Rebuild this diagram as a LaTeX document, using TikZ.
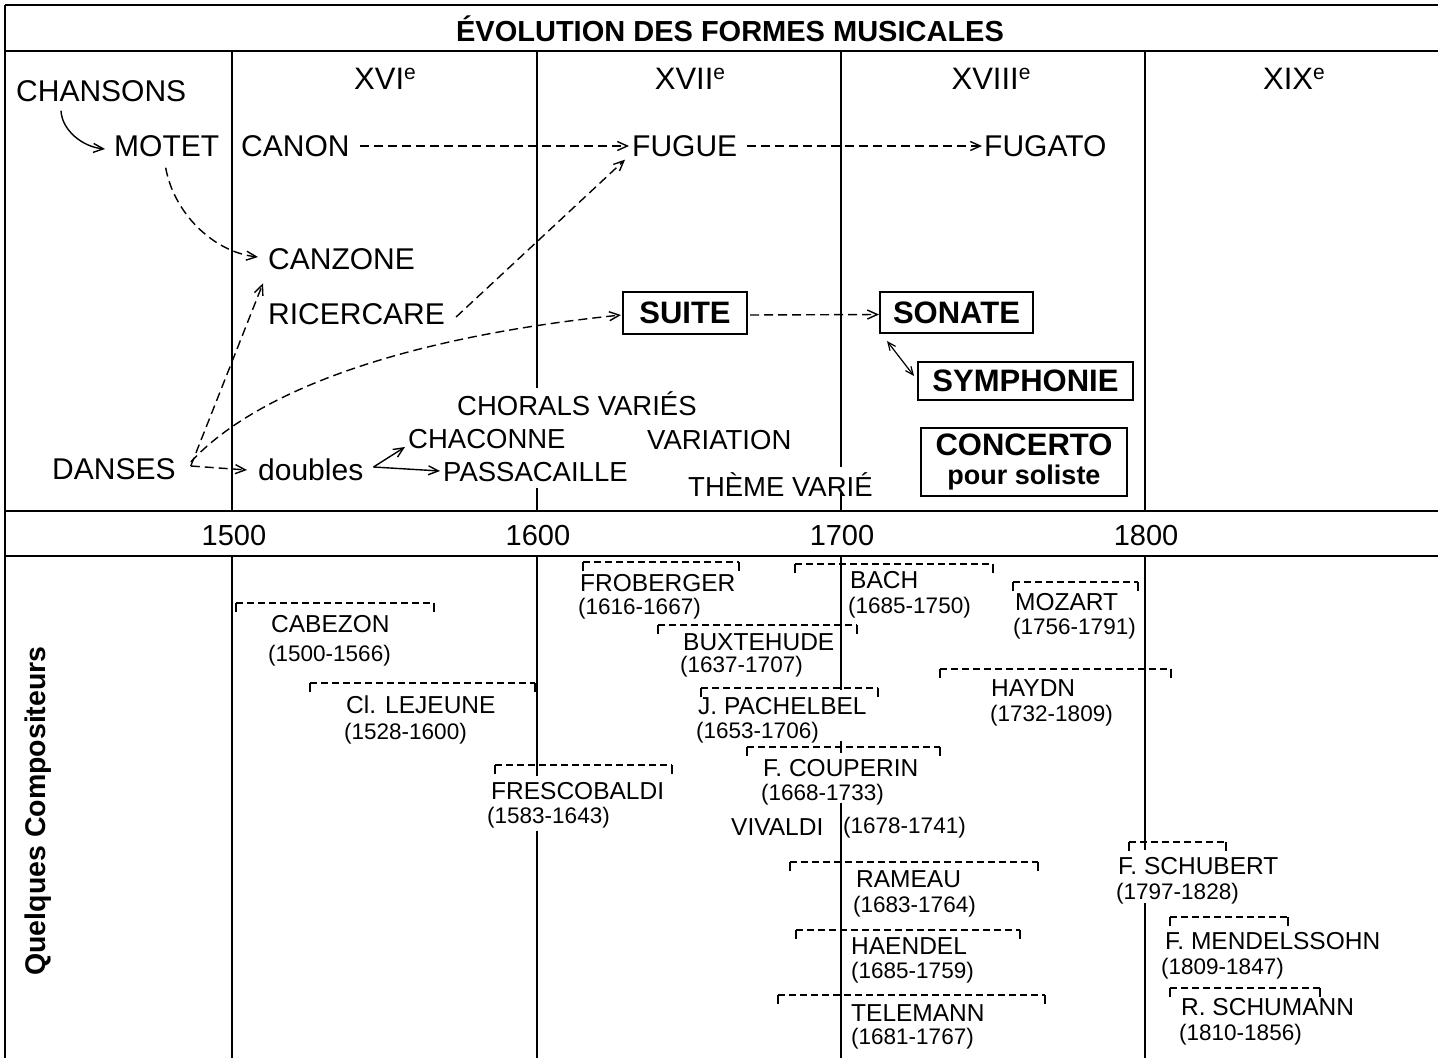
\documentclass[tikz,border=0pt]{standalone}
\usepackage{fontspec}
\setmainfont{Liberation Sans}
\usetikzlibrary{arrows.meta}
\newcommand{\fs}[1]{\fontsize{#1}{#1}\selectfont}
\newcommand{\siecle}[1]{#1\raisebox{10.5pt}{\fs{21}e}}
\newcommand{\compbr}[3]{%
  \draw[brkt] (#1,#3+9) -- (#1,#3) (#2,#3) -- (#2,#3+9);
  \draw[brk] (#1,#3) -- (#2,#3);}
\begin{document}
\begin{tikzpicture}[x=1pt,y=-1pt,
  frame/.style={line width=2pt},
  lbl/.style={anchor=west, inner sep=0pt, text depth=0pt, text height=21pt, font=\fs{30}},
  small/.style={anchor=west, inner sep=0pt, text depth=0pt, text height=19.3pt, font=\fs{27.5}},
  cname/.style={anchor=west, inner sep=0pt, text depth=0pt, text height=17.2pt, font=\fs{24.5}},
  cdate/.style={anchor=west, inner sep=0pt, text depth=0pt, text height=15.8pt, font=\fs{22.5}},
  cent/.style={anchor=center, inner sep=0pt, font=\fs{31}},
  year/.style={anchor=center, inner sep=0pt, font=\fs{29}},
  box/.style={draw, line width=2pt, inner sep=0pt, font=\bfseries\fs{31}},
  darr/.style={line width=1.4pt, dash pattern=on 9pt off 5pt, -{Straight Barb[length=10pt,width=9pt]}},
  sarr/.style={line width=1.4pt, -{Straight Barb[length=10pt,width=9pt]}},
  dsarr/.style={line width=1.2pt, {Straight Barb[length=8pt,width=7pt]}-{Straight Barb[length=8pt,width=7pt]}},
  brk/.style={line width=1.3pt, dash pattern=on 7pt off 4pt},
  brkt/.style={line width=1.3pt},
]
\useasboundingbox (0,0) rectangle (1438,1058);

% frame
\draw[frame] (5,5) -- (1438,5);
\draw[frame] (5,51) -- (1438,51);
\draw[frame] (5,511) -- (1438,511);
\draw[frame] (5,556) -- (1438,556);
\draw[frame] (5,5) -- (5,1058);

% century lines, upper part
\draw[frame] (232,51) -- (232,511);
\draw[frame] (537,51) -- (537,388) (537,488) -- (537,511);
\draw[frame] (841,51) -- (841,467) (841,493) -- (841,511);
\draw[frame] (1145,51) -- (1145,511);
% century lines, lower part
\draw[frame] (232,556) -- (232,1058);
\draw[frame] (537,556) -- (537,776) (537,831) -- (537,1058);
\draw[frame] (841,556) -- (841,690) (841,741) -- (841,753) (841,803) -- (841,1058);
\draw[frame] (1145,556) -- (1145,850) (1145,903) -- (1145,1058);

% title
\node[font=\bfseries\fs{29}, inner sep=0pt] (title) at (730,29) {ÉVOLUTION DES FORMES MUSICALES};

% centuries
\node[cent] (c16) at (385,79) {\siecle{XVI}};
\node[cent] (c17) at (690,79) {\siecle{XVII}};
\node[cent] (c18) at (991,79) {\siecle{XVIII}};
\node[cent] (c19) at (1294,79) {\siecle{XIX}};

% years
\node[year] (y1500) at (234,536) {1500};
\node[year] (y1600) at (538,536) {1600};
\node[year] (y1700) at (842,536) {1700};
\node[year] (y1800) at (1146,536) {1800};

% upper labels
\node[lbl] (CHANSONS) at (16,91) {CHANSONS};
\node[lbl] (MOTET) at (114,146) {MOTET};
\node[lbl] (CANON) at (241,146) {CANON};
\node[lbl] (FUGUE) at (632,146) {FUGUE};
\node[lbl] (FUGATO) at (984,146) {FUGATO};
\node[lbl] (CANZONE) at (268,259) {CANZONE};
\node[lbl] (RICERCARE) at (268,314) {RICERCARE};
\node[lbl] (DANSES) at (52,469) {DANSES};
\node[lbl] (doubles) at (258,470) {doubles};
\node[small] (CHORALS) at (457,406) {CHORALS VARIÉS};
\node[small] (CHACONNE) at (408,439) {CHACONNE};
\node[small] (PASSACAILLE) at (443,472) {PASSACAILLE};
\node[small] (VARIATION) at (647,440) {VARIATION};
\node[small] (THEME) at (688,487) {THÈME VARIÉ};

% boxes
\node[box, minimum width=124pt, minimum height=42pt] (SUITE) at (685,313) {SUITE};
\node[box, minimum width=153pt, minimum height=41pt] (SONATE) at (956.5,312.5) {SONATE};
\node[box, minimum width=215pt, minimum height=38pt] (SYMPHONIE) at (1025.5,381) {SYMPHONIE};
\node[box, minimum width=206pt, minimum height=68pt, align=center, font=\bfseries\fs{27}] (CONCERTO) at (1024,462) {{\fs{31}CONCERTO}\\[2pt]pour soliste};

% arrows
\draw[sarr] ([shift={(45,9)}]CHANSONS.south west) .. controls +(1,20) and +(-22,-2) .. ([shift={(-9,3)}]MOTET.west);
\draw[darr] ([shift={(-1,11)}]MOTET.south) .. controls +(8,45) and +(-45,-5) .. ([shift={(-10,-2)}]CANZONE.west);
\draw[darr] ([xshift=10pt]CANON.east) -- ([xshift=-3pt]FUGUE.west);
\draw[darr] ([xshift=10pt]FUGUE.east) -- ([xshift=-2pt]FUGATO.west);
\draw[darr] ([shift={(11,3)}]RICERCARE.east) -- ([shift={(-7,3)}]FUGUE.south west);
\draw[darr] ([shift={(15,-3)}]DANSES.east) -- ([shift={(-5,-20)}]RICERCARE.north west);
\draw[darr] ([shift={(15,-7)}]DANSES.east) .. controls +(57,-62) and +(-242,25) .. ([shift={(-1,2)}]SUITE.west);
\draw[darr] ([shift={(15,-3)}]DANSES.east) -- ([xshift=-11pt]doubles.west);
\draw[sarr] ([shift={(10,-3)}]doubles.east) -- ([shift={(-3,8)}]CHACONNE.west);
\draw[sarr] ([shift={(10,-3)}]doubles.east) -- ([shift={(-3,-1)}]PASSACAILLE.west);
\draw[darr] ([shift={(2,2)}]SUITE.east) -- ([shift={(0,2)}]SONATE.west);
\draw[dsarr] ([shift={(8,7)}]SONATE.south west) -- ([shift={(-3,-5)}]SYMPHONIE.west);

% side label
\node[rotate=90, font=\bfseries\fs{28.5}, inner sep=0pt] (QC) at (38,811) {Quelques Compositeurs};

% composers: brackets
\compbr{236}{434}{603}
\compbr{310}{535}{683}
\compbr{495}{672}{765}
\compbr{583}{739}{562}
\compbr{795}{993}{564}
\compbr{658}{857}{625}
\compbr{1013}{1138}{582}
\compbr{701}{878}{688}
\compbr{940}{1171}{669}
\compbr{747}{940}{747}
\compbr{790}{1038}{862}
\compbr{796}{1020}{930}
\compbr{778}{1045}{995}
\compbr{1129}{1226}{842}
\compbr{1170}{1288}{917}
\compbr{1170}{1320}{988}

% composers: names and dates
\node[cname] (CABEZON) at (271,624) {CABEZON};
\node[cdate] (dCABEZON) at (268,654) {(1500-1566)};
\node[cname] (LEJEUNE) at (346,705) {Cl. LEJEUNE};
\node[cdate] (dLEJEUNE) at (344,732) {(1528-1600)};
\node[cname] (FRESCOBALDI) at (491,791) {FRESCOBALDI};
\node[cdate] (dFRESCOBALDI) at (487,816) {(1583-1643)};
\node[cname] (FROBERGER) at (580,583) {FROBERGER};
\node[cdate] (dFROBERGER) at (578,607) {(1616-1667)};
\node[cname] (BACH) at (850,580) {BACH};
\node[cdate] (dBACH) at (848,606) {(1685-1750)};
\node[cname] (BUXTEHUDE) at (683,642) {BUXTEHUDE};
\node[cdate] (dBUXTEHUDE) at (680,665) {(1637-1707)};
\node[cname] (MOZART) at (1015,602) {MOZART};
\node[cdate] (dMOZART) at (1013,627) {(1756-1791)};
\node[cname] (PACHELBEL) at (698,706) {J. PACHELBEL};
\node[cdate] (dPACHELBEL) at (696,731) {(1653-1706)};
\node[cname] (HAYDN) at (991,688) {HAYDN};
\node[cdate] (dHAYDN) at (990,714) {(1732-1809)};
\node[cname] (COUPERIN) at (763,768) {F. COUPERIN};
\node[cdate] (dCOUPERIN) at (761,793) {(1668-1733)};
\node[cname] (VIVALDI) at (731,827) {VIVALDI};
\node[cdate] (dVIVALDI) at (843,826) {(1678-1741)};
\node[cname] (RAMEAU) at (856,879) {RAMEAU};
\node[cdate] (dRAMEAU) at (853,905) {(1683-1764)};
\node[cname] (HAENDEL) at (851,946) {HAENDEL};
\node[cdate] (dHAENDEL) at (851,971) {(1685-1759)};
\node[cname] (TELEMANN) at (851,1013) {TELEMANN};
\node[cdate] (dTELEMANN) at (851,1037) {(1681-1767)};
\node[cname] (SCHUBERT) at (1118,866) {F. SCHUBERT};
\node[cdate] (dSCHUBERT) at (1116,892) {(1797-1828)};
\node[cname] (MENDELSSOHN) at (1165,941) {F. MENDELSSOHN};
\node[cdate] (dMENDELSSOHN) at (1161,967) {(1809-1847)};
\node[cname] (SCHUMANN) at (1181,1007) {R. SCHUMANN};
\node[cdate] (dSCHUMANN) at (1179,1033) {(1810-1856)};
\end{tikzpicture}
\end{document}
